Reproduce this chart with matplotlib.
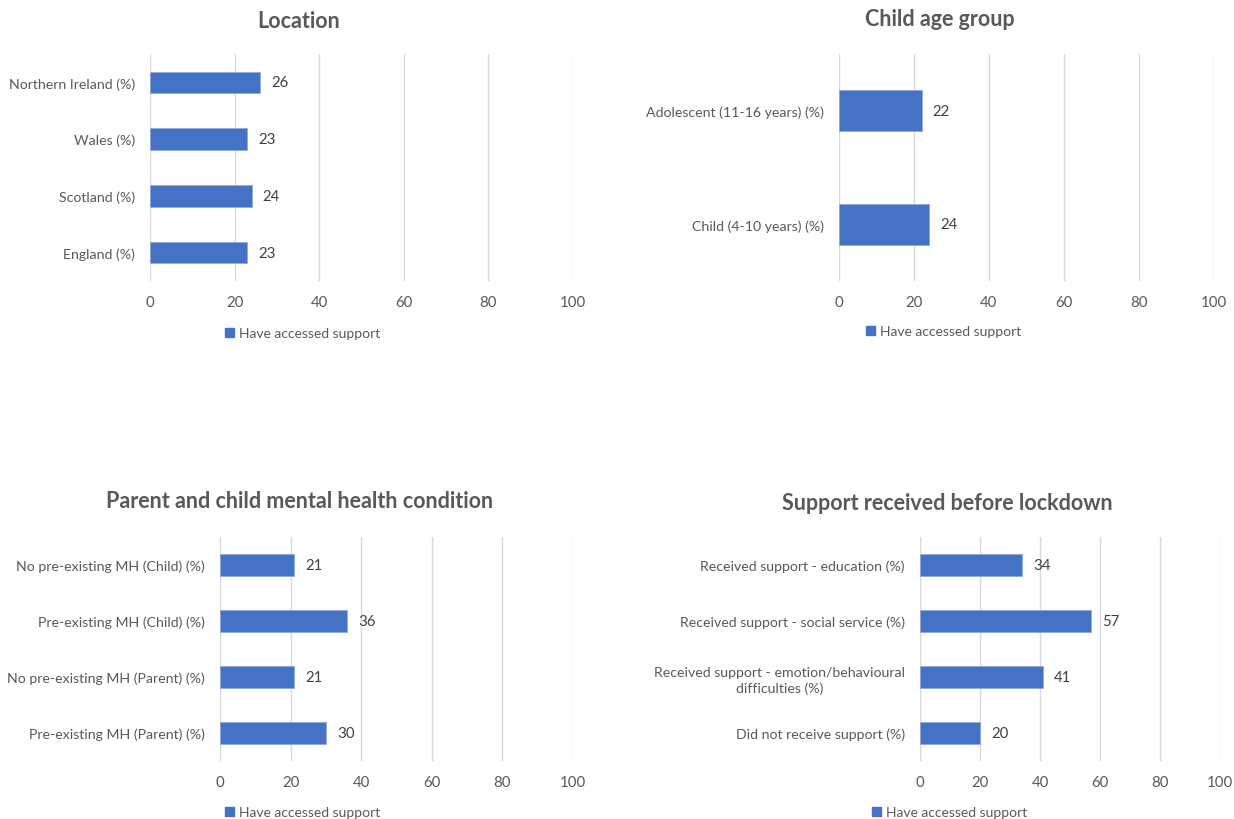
import matplotlib
matplotlib.use("Agg")
import matplotlib.pyplot as plt
from matplotlib.patches import Patch

plt.rcParams['font.family'] = ['Lato', 'DejaVu Sans']

series_name = "Have accessed support"

loc_titles = "Location"
loc_cats = ["England (%)", "Scotland (%)", "Wales (%)", "Northern Ireland (%)"]
loc_vals = [23, 24, 23, 26]

age_title = "Child age group"
age_cats = ["Child (4-10 years) (%)", "Adolescent (11-16 years) (%)"]
age_vals = [24, 22]

mh_title = "Parent and child mental health condition"
mh_cats = ["Pre-existing MH (Parent) (%)", "No pre-existing MH (Parent) (%)",
           "Pre-existing MH (Child) (%)", "No pre-existing MH (Child) (%)"]
mh_vals = [30, 21, 36, 21]

sup_title = "Support received before lockdown"
sup_cats = ["Did not receive support (%)",
            "Received support - emotion/behavioural\ndifficulties (%)",
            "Received support - social service (%)",
            "Received support - education (%)"]
sup_vals = [20, 41, 57, 34]

xticks = [0, 20, 40, 60, 80, 100]

BAR = "#4472C4"
GRID = "#D9D9D9"
TXT = "#595959"

W, H = 1234, 820
fig = plt.figure(figsize=(W / 100, H / 100), dpi=100)


def box(l, t, r, b):
    return [l / W, 1 - b / H, (r - l) / W, (b - t) / H]


panels = [
    (loc_titles, loc_cats, loc_vals, box(150, 55, 573, 282), (299, 22), (303, 334), 0.38),
    (age_title, age_cats, age_vals, box(839, 55, 1214, 282), (940, 20), (944, 332), 0.36),
    (mh_title, mh_cats, mh_vals, box(220, 538, 573, 762), (300, 502), (303, 813), 0.38),
    (sup_title, sup_cats, sup_vals, box(920, 538, 1220, 762), (947, 503), (950, 813), 0.38),
]

for title, cats, vals, rect, tpos, lpos, bh in panels:
    ax = fig.add_axes(rect)
    y = list(range(len(cats)))
    ax.barh(y, vals, height=bh, color=BAR, edgecolor="#8FAADC", linewidth=0.6, zorder=3)
    ax.set_xlim(0, 100)
    ax.set_ylim(-0.5, len(cats) - 0.5)
    ax.set_xticks(xticks)
    ax.set_yticks(y)
    ax.set_yticklabels(cats)
    for lab in ax.get_yticklabels():
        lab.set_multialignment('center')
        lab.set_linespacing(1.35)
    ax.tick_params(axis='both', length=0, colors=TXT, labelsize=10.2)
    ax.tick_params(axis='x', pad=10, labelsize=10.8)
    ax.tick_params(axis='y', pad=11)
    ax.grid(axis='x', color=GRID, linewidth=1, zorder=0)
    for s in ax.spines.values():
        s.set_visible(False)
    for yi, v in zip(y, vals):
        ax.annotate(str(v), (v, yi), xytext=(8, 0), textcoords='offset points',
                    va='center', ha='left', fontsize=10.8, color="#404040")
    fig.text(tpos[0] / W, 1 - tpos[1] / H, title, ha='center', va='center',
             fontsize=15.5, fontweight='bold', color=TXT)
    fig.legend(handles=[Patch(color=BAR, label=series_name)], loc='center',
               bbox_to_anchor=(lpos[0] / W, 1 - lpos[1] / H), frameon=False,
               handlelength=0.6, handleheight=0.6, handletextpad=0.4,
               fontsize=10, labelcolor=TXT)

fig.savefig("out.png", dpi=100, facecolor="white")
